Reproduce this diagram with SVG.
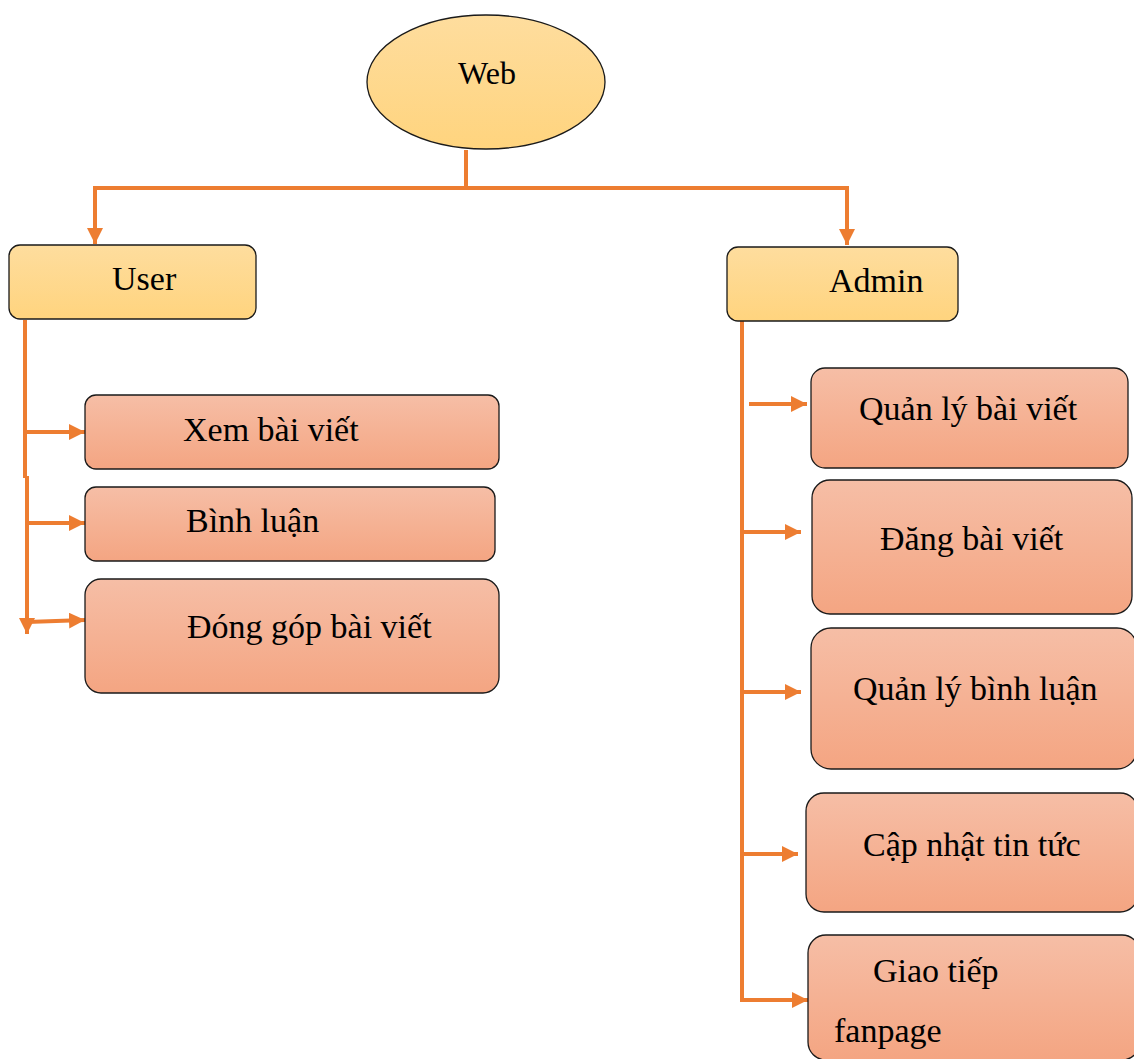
<svg xmlns="http://www.w3.org/2000/svg" width="1134" height="1059" viewBox="0 0 1134 1059">
<defs>
<linearGradient id="gy" x1="0" y1="0" x2="0" y2="1"><stop offset="0" stop-color="#FEDD9E"/><stop offset="1" stop-color="#FFD47E"/></linearGradient>
<linearGradient id="go" x1="0" y1="0" x2="0" y2="1"><stop offset="0" stop-color="#F6BEA6"/><stop offset="1" stop-color="#F4A582"/></linearGradient>
<marker id="ah" viewBox="0 0 10 10" refX="10" refY="5" markerWidth="16" markerHeight="16" markerUnits="userSpaceOnUse" orient="auto"><path d="M0,0 L10,5 L0,10 z" fill="#ED7D31"/></marker>
</defs>
<style>
.y{fill:url(#gy);stroke:#1a1a1a;stroke-width:1.3}
.o{fill:url(#go);stroke:#1a1a1a;stroke-width:1.3}
.t{font-family:"Liberation Serif","Times New Roman",serif;font-size:34px;fill:#000}
.c{fill:none;stroke:#ED7D31;stroke-width:4}
.a{marker-end:url(#ah)}
</style>
<g id="connectors">
<path class="c" d="M466,150 V188"/>
<path class="c" d="M95,188 H848"/>
<path class="c a" d="M95,186 V244"/>
<path class="c a" d="M847,186 V245"/>
<path class="c" d="M25,320 V478"/>
<path class="c a" d="M27,476 V634"/>
<path class="c a" d="M25,432 H85"/>
<path class="c a" d="M27,523 H85"/>
<path class="c a" d="M27,622 L85,620"/>
<path class="c" d="M742,321 V1000"/>
<path class="c a" d="M749,404 H807"/>
<path class="c a" d="M742,532 H801"/>
<path class="c a" d="M742,692 H801"/>
<path class="c a" d="M742,854 H798"/>
<path class="c a" d="M740,1000 H808"/>
</g>
<g id="web"><ellipse class="y" cx="486" cy="82" rx="119" ry="67"/><text class="t" x="487" y="84" text-anchor="middle" style="font-size:32px">Web</text></g>
<g id="user"><rect class="y" x="9" y="245" width="247" height="74" rx="11"/><text class="t" x="112" y="290">User</text></g>
<g id="admin"><rect class="y" x="727" y="247" width="231" height="74" rx="11"/><text class="t" x="829" y="292">Admin</text></g>
<g id="xem"><rect class="o" x="85" y="395" width="414" height="74" rx="11"/><text class="t" x="183" y="441">Xem bài viết</text></g>
<g id="binhluan"><rect class="o" x="85" y="487" width="410" height="74" rx="11"/><text class="t" x="186" y="532">Bình luận</text></g>
<g id="donggop"><rect class="o" x="85" y="579" width="414" height="114" rx="16"/><text class="t" x="187" y="638">Đóng góp bài viết</text></g>
<g id="qlbv"><rect class="o" x="811" y="368" width="317" height="100" rx="14"/><text class="t" x="859" y="420">Quản lý bài viết</text></g>
<g id="dang"><rect class="o" x="812" y="480" width="320" height="134" rx="18"/><text class="t" x="880" y="550">Đăng bài viết</text></g>
<g id="qlbl"><rect class="o" x="811" y="628" width="326" height="141" rx="20"/><text class="t" x="853" y="700">Quản lý bình luận</text></g>
<g id="capnhat"><rect class="o" x="806" y="793" width="332" height="119" rx="18"/><text class="t" x="863" y="856">Cập nhật tin tức</text></g>
<g id="giaotiep"><rect class="o" x="808" y="935" width="332" height="125" rx="18"/><text class="t" x="873" y="982">Giao tiếp</text><text class="t" x="834" y="1042">fanpage</text></g>
</svg>
